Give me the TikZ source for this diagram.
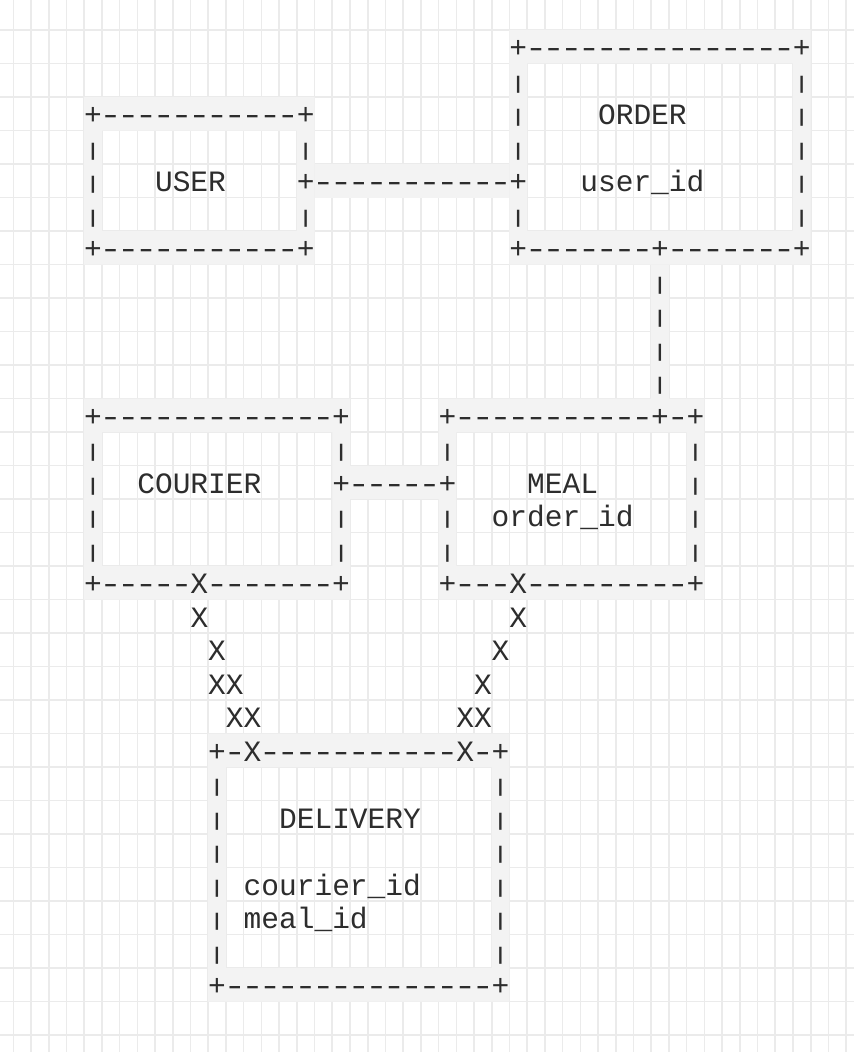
\documentclass[tikz,border=0pt]{standalone}
\usepackage{graphicx}
\usepackage{fontspec}
\setmonofont{Liberation Mono}
\definecolor{bandcol}{RGB}{243,243,243}
\definecolor{gridcol}{RGB}{235,235,235}
\definecolor{txtcol}{RGB}{45,45,45}
\newcommand\asciifont{\ttfamily\fontsize{29.53pt}{33.5pt}\selectfont}
\newcommand\hy{\makebox[0.6em][c]{\scalebox{1.3}[1]{-}}}
\newcommand\dsh[1]{\foreach \dd in {1,...,#1}{\hy}}
\newcommand\vb{\raisebox{0.07em}{\scalebox{1}[0.62]{|}}}
\tikzset{
  gridline/.style={draw=gridcol, line width=1.6pt},
  band/.style={fill=bandcol},
  txt/.style={anchor=base west, inner sep=0pt, outer sep=0pt, font=\asciifont, text=txtcol},
}
\begin{document}
\begin{tikzpicture}[x=17.72pt, y=-33.5pt, shift={(13.3pt,-30pt)}]
\useasboundingbox (-0.75056,-0.89552) rectangle (47.4436,30.5075);
\fill[white] (-0.75056,-0.89552) rectangle (47.4436,30.5075);
% grid
\foreach \k in {0,...,47} \draw[gridline] (\k,-0.9) -- (\k,30.51);
\foreach \k in {0,...,30} \draw[gridline] (-0.76,\k) -- (47.45,\k);
% bands
\fill[band, even odd rule] (28,0) rectangle (45,7) (29,1) rectangle (44,6);
\fill[band, even odd rule] (4,2) rectangle (17,7) (5,3) rectangle (16,6);
\fill[band] (17,4) rectangle (28,5);
\fill[band] (36,7) rectangle (37,11);
\fill[band, even odd rule] (4,11) rectangle (19,17) (5,12) rectangle (18,16);
\fill[band] (19,13) rectangle (24,14);
\fill[band, even odd rule] (24,11) rectangle (39,17) (25,12) rectangle (38,16);
\fill[band, even odd rule] (11,21) rectangle (28,29) (12,22) rectangle (27,28);
% ORDER
\node[txt] (o0) at (28,0.83) {+\dsh{15}+};
\foreach \r in {1,2,3,5} \node[txt] (ol\r) at (28,\r+0.83) {\vb};
\foreach \r in {1,...,5} \node[txt] (or\r) at (44,\r+0.83) {\vb};
\node[txt] (oname) at (33,2.83) {ORDER};
\node[txt] (ofk) at (32,4.83) {user\_id};
\node[txt] (o6) at (28,6.83) {+\dsh{7}+\dsh{7}+};
% USER
\node[txt] (u2) at (4,2.83) {+\dsh{11}+};
\foreach \r in {3,4,5} \node[txt] (ul\r) at (4,\r+0.83) {\vb};
\node[txt] (ur3) at (16,3.83) {\vb};
\node[txt] (ur5) at (16,5.83) {\vb};
\node[txt] (uname) at (8,4.83) {USER};
\node[txt] (uolink) at (16,4.83) {+\dsh{11}+};
\node[txt] (u6) at (4,6.83) {+\dsh{11}+};
% ORDER - MEAL link
\foreach \r in {7,...,10} \node[txt] (om\r) at (36,\r+0.83) {\vb};
% COURIER
\node[txt] (c11) at (4,11.83) {+\dsh{13}+};
\foreach \r in {12,...,15} \node[txt] (cl\r) at (4,\r+0.83) {\vb};
\foreach \r in {12,14,15} \node[txt] (cr\r) at (18,\r+0.83) {\vb};
\node[txt] (cname) at (7,13.83) {COURIER};
\node[txt] (cmlink) at (18,13.83) {+\dsh{5}+};
\node[txt] (c16) at (4,16.83) {+\dsh{5}X\dsh{7}+};
% MEAL
\node[txt] (m11) at (24,11.83) {+\dsh{11}+\hy+};
\foreach \r in {12,14,15} \node[txt] (ml\r) at (24,\r+0.83) {\vb};
\foreach \r in {12,...,15} \node[txt] (mr\r) at (38,\r+0.83) {\vb};
\node[txt] (mname) at (29,13.83) {MEAL};
\node[txt] (mfk) at (27,14.83) {order\_id};
\node[txt] (m16) at (24,16.83) {+\dsh{3}X\dsh{9}+};
% X connectors
\node[txt] (xl17) at (10,17.83) {X};
\node[txt] (xl18) at (11,18.83) {X};
\node[txt] (xl19) at (11,19.83) {XX};
\node[txt] (xl20) at (12,20.83) {XX};
\node[txt] (xr17) at (28,17.83) {X};
\node[txt] (xr18) at (27,18.83) {X};
\node[txt] (xr19) at (26,19.83) {X};
\node[txt] (xr20) at (25,20.83) {XX};
% DELIVERY
\node[txt] (d21) at (11,21.83) {+\hy X\dsh{11}X\hy+};
\foreach \r in {22,...,27} {\node[txt] (dl\r) at (11,\r+0.83) {\vb}; \node[txt] (dr\r) at (27,\r+0.83) {\vb};}
\node[txt] (dname) at (15,23.83) {DELIVERY};
\node[txt] (dfk1) at (13,25.83) {courier\_id};
\node[txt] (dfk2) at (13,26.83) {meal\_id};
\node[txt] (d28) at (11,28.83) {+\dsh{15}+};
\end{tikzpicture}
\end{document}
